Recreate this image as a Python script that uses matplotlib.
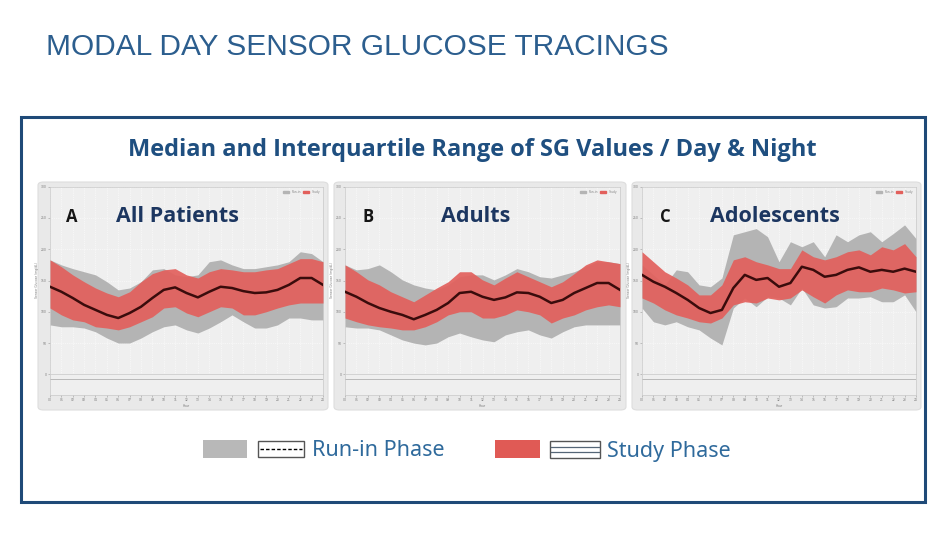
import numpy as np
import matplotlib.pyplot as plt
from matplotlib.patches import Rectangle, FancyBboxPatch
from matplotlib.lines import Line2D

hours = list(range(25))

# panel A - all patients (mg/dL)
a_median = [140, 132, 122, 111, 103, 95, 90, 98, 108, 122, 135, 139, 130, 123, 132, 140, 138, 133, 130, 131, 135, 143, 154, 154, 143]
a_study_hi = [183, 172, 159, 148, 138, 130, 124, 132, 148, 161, 167, 169, 159, 154, 164, 169, 167, 164, 164, 167, 169, 177, 185, 185, 180]
a_study_lo = [106, 95, 87, 84, 76, 74, 71, 76, 84, 92, 106, 108, 98, 92, 100, 108, 106, 95, 95, 100, 106, 111, 114, 114, 114]
a_runin_hi = [183, 175, 169, 164, 159, 148, 135, 138, 148, 167, 169, 159, 156, 159, 180, 183, 175, 169, 169, 172, 175, 180, 196, 193, 180]
a_runin_lo = [79, 76, 76, 74, 68, 58, 50, 50, 58, 68, 76, 79, 71, 66, 74, 84, 95, 84, 74, 74, 79, 90, 90, 87, 87]

# panel B - adults
b_median = [132, 124, 114, 106, 100, 95, 88, 95, 103, 114, 130, 132, 124, 119, 123, 131, 130, 124, 114, 119, 130, 138, 146, 146, 135]
b_study_hi = [175, 164, 151, 143, 132, 124, 116, 127, 138, 148, 164, 164, 151, 143, 154, 164, 156, 148, 140, 148, 161, 175, 183, 180, 177]
b_study_lo = [90, 84, 79, 76, 74, 71, 71, 76, 84, 95, 100, 100, 90, 90, 95, 103, 100, 95, 82, 90, 95, 103, 108, 111, 108]
b_runin_hi = [175, 167, 169, 175, 164, 151, 143, 138, 135, 143, 156, 159, 159, 151, 159, 169, 164, 156, 154, 159, 164, 172, 180, 180, 177]
b_runin_lo = [76, 74, 74, 71, 63, 55, 50, 47, 50, 60, 66, 60, 55, 52, 63, 68, 71, 63, 58, 68, 76, 79, 79, 79, 79]

# panel C - adolescents
c_median = [159, 148, 140, 130, 119, 106, 98, 103, 138, 159, 151, 154, 140, 146, 172, 167, 156, 159, 167, 171, 164, 167, 164, 169, 164]
c_study_hi = [196, 180, 164, 154, 143, 127, 127, 143, 183, 188, 180, 175, 169, 169, 199, 188, 183, 188, 196, 199, 191, 204, 199, 209, 188]
c_study_lo = [122, 114, 103, 95, 90, 84, 82, 90, 111, 116, 114, 122, 119, 122, 135, 124, 114, 127, 135, 132, 132, 138, 135, 130, 132]
c_runin_hi = [175, 159, 143, 167, 164, 143, 140, 154, 223, 228, 233, 220, 180, 212, 204, 212, 188, 223, 212, 223, 228, 212, 225, 239, 217]
c_runin_lo = [106, 84, 79, 84, 76, 71, 58, 47, 106, 122, 108, 124, 122, 111, 138, 111, 106, 108, 122, 122, 124, 116, 116, 127, 100]

panel_letters = ["A", "B", "C"]
panel_names = ["All Patients", "Adults", "Adolescents"]
y_ticks = [0, 50, 100, 150, 200, 250, 300]
hour_labels = ["%02d" % h for h in hours]

W, H = 944, 535
GRAY = "#b4b4b4"
RED = "#e2605c"
BLUE = "#2c5e8e"
NAVY = "#1c3660"


def fx(x):
    return x / W


def fy(y):
    return 1 - y / H


fig = plt.figure(figsize=(9.44, 5.35), dpi=100)
fig.patch.set_facecolor("white")

fig.text(fx(46), fy(47), "MODAL DAY SENSOR GLUCOSE TRACINGS", fontsize=21.5,
         family="Liberation Sans", color=BLUE, va="center", ha="left")

# outer frame
fig.patches.append(Rectangle((fx(21), fy(502)), fx(925) - fx(21), fy(117) - fy(502),
                             transform=fig.transFigure, fill=False, edgecolor="#1f4a78", linewidth=2.2))

fig.text(fx(472), fy(150), "Median and Interquartile Range of SG Values / Day & Night",
         fontsize=17, family="Open Sans", weight="bold", color="#1f4f80", ha="center", va="center")

panels = [
    (a_median, a_study_hi, a_study_lo, a_runin_hi, a_runin_lo),
    (b_median, b_study_hi, b_study_lo, b_runin_hi, b_runin_lo),
    (c_median, c_study_hi, c_study_lo, c_runin_hi, c_runin_lo),
]
bg_x = [(38, 328), (334, 626), (632, 921)]
plot_x = [(50, 323), (345, 620), (642, 916)]
letter_x = [72, 368, 665]
name_x = [178, 476, 775]

top, mid, bot = 186.7, 374.3, 395

for i, (med, shi, slo, rhi, rlo) in enumerate(panels):
    x0, x1 = bg_x[i]
    fig.patches.append(FancyBboxPatch((fx(x0), fy(410)), fx(x1) - fx(x0), fy(182) - fy(410),
                                      boxstyle="round,pad=0,rounding_size=0.006",
                                      transform=fig.transFigure, facecolor="#e9e9e9",
                                      edgecolor="#dddddd", linewidth=0.8, zorder=-1))
    l, r = plot_x[i]
    ax = fig.add_axes([fx(l), fy(mid), fx(r) - fx(l), fy(top) - fy(mid)])
    ax.set_zorder(1)
    ax.set_facecolor("#efefef")
    ax.fill_between(hours, rlo, rhi, color=GRAY, linewidth=0, zorder=2)
    ax.fill_between(hours, slo, shi, color=RED, alpha=0.92, linewidth=0, zorder=3)
    ax.plot(hours, med, color="#3a0c0c", linewidth=1.8, zorder=4)
    ax.set_xlim(0, 24)
    ax.set_ylim(0, 300)
    ax.set_yticks(y_ticks)
    ax.set_yticklabels([str(v) for v in y_ticks], fontsize=2.2, color="#777777")
    ax.set_xticks(hours)
    ax.tick_params(axis="x", labelbottom=False, length=0)
    ax.tick_params(axis="y", length=1.5, width=0.4, color="#999999", pad=1)
    ax.grid(True, color="white", linewidth=0.5, linestyle=":")
    ax.set_ylabel("Sensor Glucose (mg/dL)", fontsize=2.2, color="#777777", labelpad=1)
    for s in ax.spines.values():
        s.set_color("#c8c8c8")
        s.set_linewidth(0.5)
    ax.legend(handles=[Rectangle((0, 0), 1, 1, color=GRAY), Rectangle((0, 0), 1, 1, color=RED)],
              labels=["Run-in", "Study"], fontsize=2.2, loc="upper right", ncol=2,
              frameon=False, handlelength=2, handleheight=0.8, columnspacing=0.5,
              borderaxespad=0.6, labelcolor="#888888")

    sx = fig.add_axes([fx(l), fy(bot), fx(r) - fx(l), fy(mid) - fy(bot)], sharex=ax)
    sx.set_zorder(1)
    sx.set_facecolor("#efefef")
    sx.axhline(0.75, color="#b0b0b0", linewidth=0.6)
    sx.set_ylim(0, 1)
    sx.set_yticks([])
    sx.set_xticks(hours)
    sx.set_xticklabels(hour_labels, fontsize=2.2, color="#777777")
    sx.tick_params(axis="x", length=1.5, width=0.4, color="#999999", pad=1)
    sx.set_xlabel("Hour", fontsize=2.2, color="#777777", labelpad=1)
    for s in sx.spines.values():
        s.set_color("#c8c8c8")
        s.set_linewidth(0.5)

    fig.text(fx(letter_x[i]), fy(217), panel_letters[i], fontsize=12, weight="bold",
             family="Open Sans", color="#151515", ha="center", va="center", zorder=10)
    fig.text(fx(name_x[i]), fy(216), panel_names[i], fontsize=15.5, weight="bold",
             family="Open Sans", color=NAVY, ha="center", va="center", zorder=10)

# bottom legend
fig.patches.append(Rectangle((fx(203), fy(458)), fx(247) - fx(203), fy(440) - fy(458),
                             transform=fig.transFigure, facecolor="#b8b8b8", edgecolor="none"))
fig.patches.append(Rectangle((fx(258), fy(457)), fx(304) - fx(258), fy(441) - fy(457),
                             transform=fig.transFigure, facecolor="white", edgecolor="#555555", linewidth=1))
fig.lines.append(Line2D([fx(260), fx(302)], [fy(449), fy(449)], transform=fig.transFigure,
                        color="black", linewidth=1, linestyle=(0, (2.5, 1.5))))
fig.text(fx(312), fy(450), "Run-in Phase", fontsize=15.5, family="Noto Sans", color="#2f6a9c",
         ha="left", va="center")

fig.patches.append(Rectangle((fx(495), fy(458)), fx(540) - fx(495), fy(440) - fy(458),
                             transform=fig.transFigure, facecolor="#e05a55", edgecolor="none"))
fig.patches.append(Rectangle((fx(550), fy(458)), fx(600) - fx(550), fy(441) - fy(458),
                             transform=fig.transFigure, facecolor="white", edgecolor="#555555", linewidth=1))
for yy in (447, 452):
    fig.lines.append(Line2D([fx(551), fx(599)], [fy(yy), fy(yy)], transform=fig.transFigure,
                            color="#556677", linewidth=0.9))
fig.text(fx(607), fy(452), "Study Phase", fontsize=15.5, family="Noto Sans", color="#2f6a9c",
         ha="left", va="center")

fig.savefig("out.png", dpi=100, facecolor="white")
